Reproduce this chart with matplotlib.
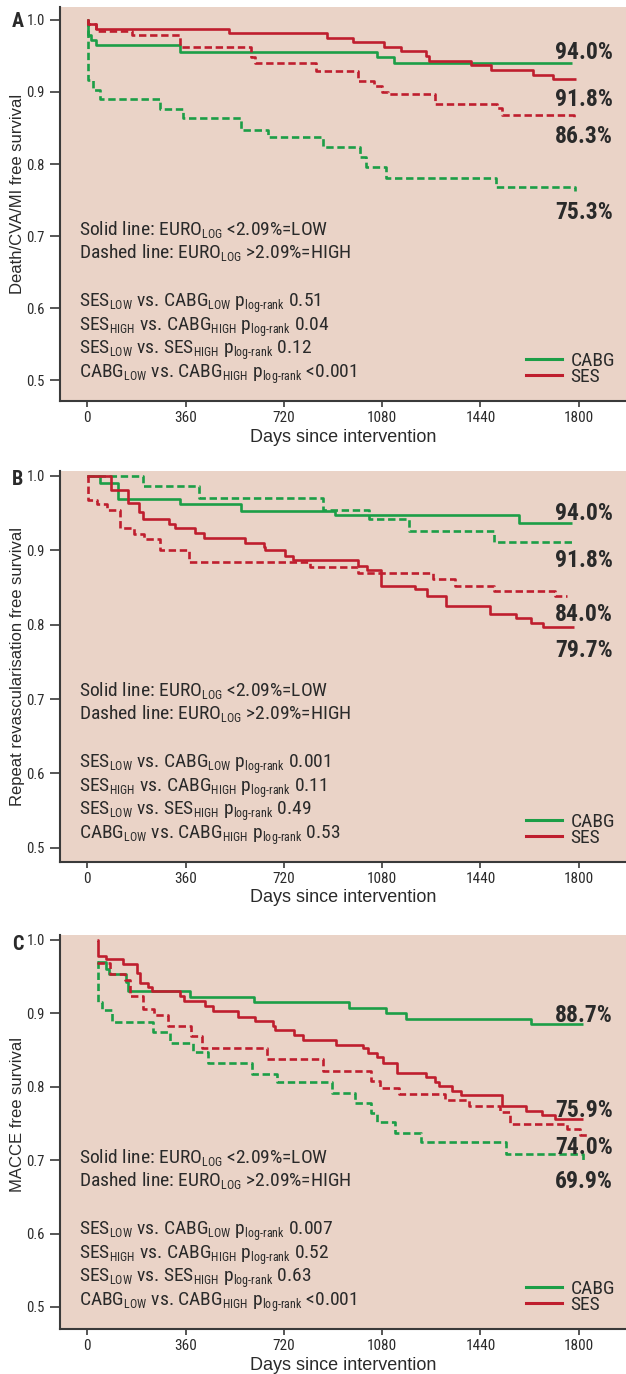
import matplotlib
matplotlib.use("Agg")
import matplotlib.pyplot as plt
from matplotlib import font_manager as fm
from matplotlib.lines import Line2D
from matplotlib.mathtext import MathTextParser

try:
    import matplotlib._mathtext as _mt
    _mt.SHRINK_FACTOR = 0.62
except Exception:
    pass

# ---------------- data ----------------
X_TICKS = [0, 360, 720, 1080, 1440, 1800]
Y_TICKS = [0.5, 0.6, 0.7, 0.8, 0.9, 1.0]

# Panel A: Death/CVA/MI
A_CABG_LOW_T = [0, 2, 13, 32, 340, 1062, 1124, 1776]
A_CABG_LOW_S = [1.0, 0.979, 0.972, 0.965, 0.955, 0.948, 0.940, 0.940]
A_CABG_HIGH_T = [0, 4, 21, 45, 265, 350, 563, 662, 865, 997, 1022, 1095, 1498, 1787]
A_CABG_HIGH_S = [1.0, 0.917, 0.903, 0.890, 0.877, 0.864, 0.847, 0.837, 0.823, 0.810, 0.796, 0.781, 0.768, 0.762]
A_SES_LOW_T = [0, 1, 32, 520, 878, 973, 1088, 1149, 1240, 1253, 1406, 1478, 1632, 1705, 1790]
A_SES_LOW_S = [1.0, 0.995, 0.988, 0.982, 0.975, 0.969, 0.963, 0.957, 0.950, 0.943, 0.937, 0.931, 0.923, 0.918, 0.918]
A_SES_HIGH_T = [0, 1, 32, 163, 340, 598, 614, 836, 993, 1051, 1079, 1103, 1274, 1500, 1518, 1783]
A_SES_HIGH_S = [1.0, 0.995, 0.985, 0.979, 0.963, 0.949, 0.940, 0.929, 0.915, 0.908, 0.900, 0.897, 0.883, 0.878, 0.868, 0.862]
A_PCT = ["94.0%", "91.8%", "86.3%", "75.3%"]
A_P = ["0.51", "0.04", "0.12", "<0.001"]

# Panel B: repeat revascularisation
B_CABG_LOW_T = [0, 48, 111, 340, 563, 908, 1580, 1777]
B_CABG_LOW_S = [1.0, 0.991, 0.969, 0.962, 0.953, 0.947, 0.937, 0.937]
B_CABG_HIGH_T = [0, 204, 408, 863, 1032, 1180, 1491, 1787]
B_CABG_HIGH_S = [1.0, 0.987, 0.970, 0.954, 0.942, 0.926, 0.911, 0.911]
B_SES_LOW_T = [0, 88, 149, 188, 204, 298, 322, 395, 428, 579, 646, 652, 725, 753,
               990, 1024, 1077, 1201, 1243, 1314, 1476, 1571, 1625, 1669, 1781]
B_SES_LOW_S = [1.0, 0.981, 0.964, 0.952, 0.942, 0.936, 0.930, 0.923, 0.916, 0.910, 0.904, 0.900, 0.892, 0.887,
               0.879, 0.874, 0.852, 0.848, 0.838, 0.825, 0.815, 0.809, 0.803, 0.797, 0.797]
B_SES_HIGH_T = [0, 2, 35, 72, 118, 170, 206, 265, 371, 817, 993, 1266, 1347, 1490, 1714, 1757]
B_SES_HIGH_S = [1.0, 0.968, 0.963, 0.954, 0.930, 0.922, 0.915, 0.900, 0.884, 0.877, 0.869, 0.862, 0.852, 0.845, 0.839, 0.839]
B_PCT = ["94.0%", "91.8%", "84.0%", "79.7%"]
B_P = ["0.001", "0.11", "0.49", "0.53"]

# Panel C: MACCE
C_CABG_LOW_T = [37, 68, 81, 142, 150, 376, 610, 960, 1095, 1168, 1625, 1817]
C_CABG_LOW_S = [0.970, 0.960, 0.954, 0.943, 0.930, 0.923, 0.915, 0.907, 0.900, 0.892, 0.885, 0.885]
C_CABG_HIGH_T = [37, 38, 53, 89, 240, 302, 388, 443, 602, 693, 898, 981, 1038, 1060, 1127, 1221, 1534, 1815]
C_CABG_HIGH_S = [0.970, 0.916, 0.905, 0.888, 0.875, 0.860, 0.848, 0.833, 0.818, 0.806, 0.791, 0.778, 0.764,
                 0.752, 0.737, 0.725, 0.709, 0.699]
C_SES_LOW_T = [37, 38, 68, 132, 183, 193, 223, 236, 340, 354, 431, 459, 553, 614, 681, 687, 757, 789, 911, 1011,
               1029, 1060, 1082, 1133, 1240, 1273, 1289, 1335, 1367, 1518, 1607, 1664, 1713, 1817]
C_SES_LOW_S = [1.0, 0.978, 0.974, 0.967, 0.955, 0.942, 0.936, 0.930, 0.924, 0.917, 0.910, 0.903, 0.895, 0.889,
               0.883, 0.877, 0.871, 0.864, 0.857, 0.853, 0.846, 0.840, 0.833, 0.819, 0.814, 0.807, 0.801, 0.794,
               0.789, 0.774, 0.767, 0.762, 0.756, 0.756]
C_SES_HIGH_T = [37, 83, 138, 156, 203, 244, 297, 379, 419, 657, 862, 1038, 1072, 1143, 1310, 1399, 1512, 1548,
                1756, 1805, 1829]
C_SES_HIGH_S = [0.969, 0.954, 0.945, 0.924, 0.906, 0.898, 0.883, 0.869, 0.853, 0.838, 0.822, 0.808, 0.799, 0.790,
                0.782, 0.774, 0.765, 0.749, 0.742, 0.734, 0.734]
C_PCT = ["88.7%", "75.9%", "74.0%", "69.9%"]
C_P = ["0.007", "0.52", "0.63", "<0.001"]

YLABELS = ["Death/CVA/MI free survival", "Repeat revascularisation free survival", "MACCE free survival"]
PANEL_LETTERS = ["A", "B", "C"]
XLABEL = "Days since intervention"
LEGEND_LABELS = ["CABG", "SES"]

# ---------------- fonts ----------------
avail = {f.name for f in fm.fontManager.ttflist}


def pick(cands):
    for c in cands:
        if c in avail:
            return c
    return "DejaVu Sans"


NARROW = pick(["Liberation Sans Narrow", "Roboto Condensed", "Open Sans Condensed", "Liberation Sans", "DejaVu Sans"])
REG = pick(["Liberation Sans", "Arial", "DejaVu Sans"])
plt.rcParams["font.family"] = [NARROW, "DejaVu Sans"]
plt.rcParams["mathtext.fontset"] = "custom"
plt.rcParams["mathtext.rm"] = NARROW
plt.rcParams["mathtext.it"] = NARROW + ":italic"
plt.rcParams["mathtext.bf"] = NARROW + ":bold"
plt.rcParams["mathtext.sf"] = NARROW
plt.rcParams["mathtext.default"] = "rm"


def math_ok(s):
    try:
        MathTextParser("agg").parse(s, dpi=100)
        return True
    except Exception:
        return False


LOGRANK = r"\text{log-rank}" if math_ok(r"$\text{log-rank}$") else "log\u2010rank"

# ---------------- style ----------------
BG = "#EAD3C7"
GREEN = "#1C9E47"
RED = "#BF1E2E"
TXT = "#2a2a2a"
AX = "#3a3a3a"
LW = 1.9
DASH = (0, (2.8, 1.4))

W, H = 626, 1374
fig = plt.figure(figsize=(W / 100, H / 100), dpi=100)


def rect(top, bottom, left=60, right=626):
    return [left / W, 1 - bottom / H, (right - left) / W, (bottom - top) / H]


panels = [
    dict(top=7, bottom=401, ylim=(0.471, 1.018), letter_base=27, ylab_y=0.525,
         curves=[(A_CABG_LOW_T, A_CABG_LOW_S, GREEN, "-"), (A_CABG_HIGH_T, A_CABG_HIGH_S, GREEN, DASH),
                 (A_SES_LOW_T, A_SES_LOW_S, RED, "-"), (A_SES_HIGH_T, A_SES_HIGH_S, RED, DASH)],
         pct=A_PCT, pct_base=[59.3, 106, 142.7, 219.3], p=A_P),
    dict(top=471, bottom=862, ylim=(0.481, 1.0067), letter_base=485, ylab_y=0.5,
         curves=[(B_CABG_LOW_T, B_CABG_LOW_S, GREEN, "-"), (B_CABG_HIGH_T, B_CABG_HIGH_S, GREEN, DASH),
                 (B_SES_LOW_T, B_SES_LOW_S, RED, "-"), (B_SES_HIGH_T, B_SES_HIGH_S, RED, DASH)],
         pct=B_PCT, pct_base=[520, 566.7, 621, 656.7], p=B_P),
    dict(top=935, bottom=1329, ylim=(0.470, 1.0068), letter_base=950, ylab_y=0.545,
         curves=[(C_CABG_LOW_T, C_CABG_LOW_S, GREEN, "-"), (C_CABG_HIGH_T, C_CABG_HIGH_S, GREEN, DASH),
                 (C_SES_LOW_T, C_SES_LOW_S, RED, "-"), (C_SES_HIGH_T, C_SES_HIGH_S, RED, DASH)],
         pct=C_PCT, pct_base=[1021.7, 1117.3, 1154.3, 1188], p=C_P),
]

for i, P in enumerate(panels):
    ax = fig.add_axes(rect(P["top"], P["bottom"]))
    ax.set_facecolor(BG)
    for t, s, c, ls in P["curves"]:
        ax.step(t, s, where="post", color=c, lw=LW, linestyle=ls, solid_capstyle="butt")
    ax.set_xlim(-100, 1973)
    ax.set_ylim(*P["ylim"])
    ax.set_xticks(X_TICKS)
    ax.set_xticklabels([str(v) for v in X_TICKS])
    ax.set_yticks(Y_TICKS)
    ax.set_yticklabels([f"{v:.1f}" for v in Y_TICKS])
    for sp in ["top", "right"]:
        ax.spines[sp].set_visible(False)
    for sp in ["left", "bottom"]:
        ax.spines[sp].set_color(AX)
        ax.spines[sp].set_linewidth(1.5)
    ax.tick_params(axis="y", length=7, width=1.2, pad=4, labelsize=10.5, colors=AX, labelcolor=TXT)
    ax.tick_params(axis="x", length=4.5, width=1.2, pad=3, labelsize=11, colors=AX, labelcolor=TXT)
    ax.set_ylabel(YLABELS[i], fontfamily=REG, fontsize=12, color=TXT)
    ax.yaxis.set_label_coords(-0.061, P["ylab_y"])
    ax.set_xlabel(XLABEL, fontfamily=REG, fontsize=13, color=TXT)
    ax.xaxis.set_label_coords(0.5, -0.070)

    handles = [Line2D([], [], color=GREEN, lw=2.2), Line2D([], [], color=RED, lw=2.2)]
    ax.legend(handles, LEGEND_LABELS, loc="lower right", bbox_to_anchor=(0.981, 0.039), frameon=False,
              borderpad=0, borderaxespad=0, handlelength=1.85, handletextpad=0.45, labelspacing=-0.12,
              prop=dict(family=NARROW, size=14), labelcolor=TXT)

    # panel letter
    fig.text(12 / W, 1 - P["letter_base"] / H, PANEL_LETTERS[i], fontsize=14.5, fontweight="bold",
             ha="left", va="baseline", color=TXT)

    # percent labels
    for lab, b in zip(P["pct"], P["pct_base"]):
        fig.text(613 / W, 1 - b / H, lab, fontsize=17, fontweight="bold", ha="right", va="baseline", color=TXT)

    # annotation block
    bot = P["bottom"]
    lines = [
        r"Solid line: EURO$_{LOG}$ <2.09%=LOW",
        r"Dashed line: EURO$_{LOG}$ >2.09%=HIGH",
        r"SES$_{LOW}$ vs. CABG$_{LOW}$ p$_{" + LOGRANK + r"}$ " + P["p"][0],
        r"SES$_{HIGH}$ vs. CABG$_{HIGH}$ p$_{" + LOGRANK + r"}$ " + P["p"][1],
        r"SES$_{LOW}$ vs. SES$_{HIGH}$ p$_{" + LOGRANK + r"}$ " + P["p"][2],
        r"CABG$_{LOW}$ vs. CABG$_{HIGH}$ p$_{" + LOGRANK + r"}$ " + P["p"][3],
    ]
    offs = [166, 142.7, 93.7, 70.3, 47, 23]
    for txt, off in zip(lines, offs):
        fig.text(79 / W, 1 - (bot - off) / H, txt, fontsize=14, ha="left", va="baseline", color=TXT)

fig.savefig("out.png", dpi=100, facecolor="white")
